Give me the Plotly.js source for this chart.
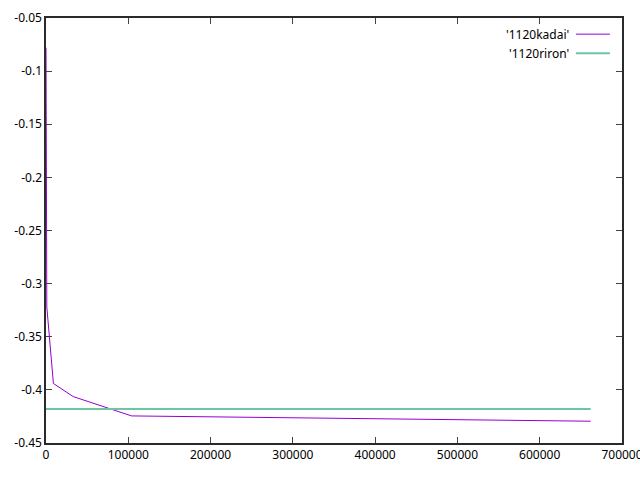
<!DOCTYPE html>
<html>
<head>
<meta charset="utf-8">
<script src="https://cdn.plot.ly/plotly-3.0.1.min.js"></script>
<style>html,body{margin:0;padding:0;background:#fff;}#chart{width:640px;height:480px;}</style>
</head>
<body>
<div id="chart"></div>
<script>
// Data
const kadaiX = [0, 1000, 9000, 33000, 104000, 662000];
const kadaiY = [-0.078, -0.322, -0.394, -0.4063, -0.4245, -0.4295];
const rironX = [0, 662000];
const rironY = [-0.418, -0.418];
const seriesNames = ["'1120kadai'", "'1120riron'"];
const seriesColors = ["#9400d3", "#6cc6a6"];
const xTickVals = [0, 100000, 200000, 300000, 400000, 500000, 600000, 700000];
const xTickText = ["0", "100000", "200000", "300000", "400000", "500000", "600000", "700000"];
const yTickVals = [-0.45, -0.4, -0.35, -0.3, -0.25, -0.2, -0.15, -0.1, -0.05];
const yTickText = ["-0.45", "-0.4", "-0.35", "-0.3", "-0.25", "-0.2", "-0.15", "-0.1", "-0.05"];

const font = {family: "Noto Sans, sans-serif", size: 12, color: "#000"};

const traces = [
  {x: kadaiX, y: kadaiY, mode: "lines", name: seriesNames[0], line: {color: seriesColors[0], width: 1}},
  {x: rironX, y: rironY, mode: "lines", name: seriesNames[1], line: {color: seriesColors[1], width: 2}}
];

const legendY = [0.962, 0.917];
const annotations = seriesNames.map((n, i) => ({
  xref: "paper", yref: "paper", x: 0.912, y: legendY[i], text: n, showarrow: false,
  xanchor: "right", yanchor: "middle", font: font
}));
const shapes = seriesNames.map((n, i) => ({
  type: "line", xref: "paper", yref: "paper", x0: 0.92, x1: 0.979, y0: legendY[i], y1: legendY[i],
  line: {color: seriesColors[i], width: i === 0 ? 1 : 2}
}));

const axisCommon = {
  showgrid: false, zeroline: false, showline: true, mirror: "ticks", linecolor: "#2a2a2a", linewidth: 1.6,
  ticks: "inside", ticklen: 6, tickcolor: "#444", tickwidth: 1, tickfont: font, tickmode: "array",
  ticklabeloverflow: "allow"
};

const layout = {
  width: 640, height: 480,
  margin: {l: 46, r: 18, t: 18, b: 37, pad: 0},
  paper_bgcolor: "#fff", plot_bgcolor: "#fff",
  showlegend: false,
  font: font,
  xaxis: Object.assign({}, axisCommon, {range: [0, 700000], tickvals: xTickVals, ticktext: xTickText}),
  yaxis: Object.assign({}, axisCommon, {range: [-0.45, -0.05], tickvals: yTickVals, ticktext: yTickText}),
  annotations: annotations,
  shapes: shapes
};

Plotly.newPlot("chart", traces, layout, {staticPlot: true, displayModeBar: false});
</script>
</body>
</html>
